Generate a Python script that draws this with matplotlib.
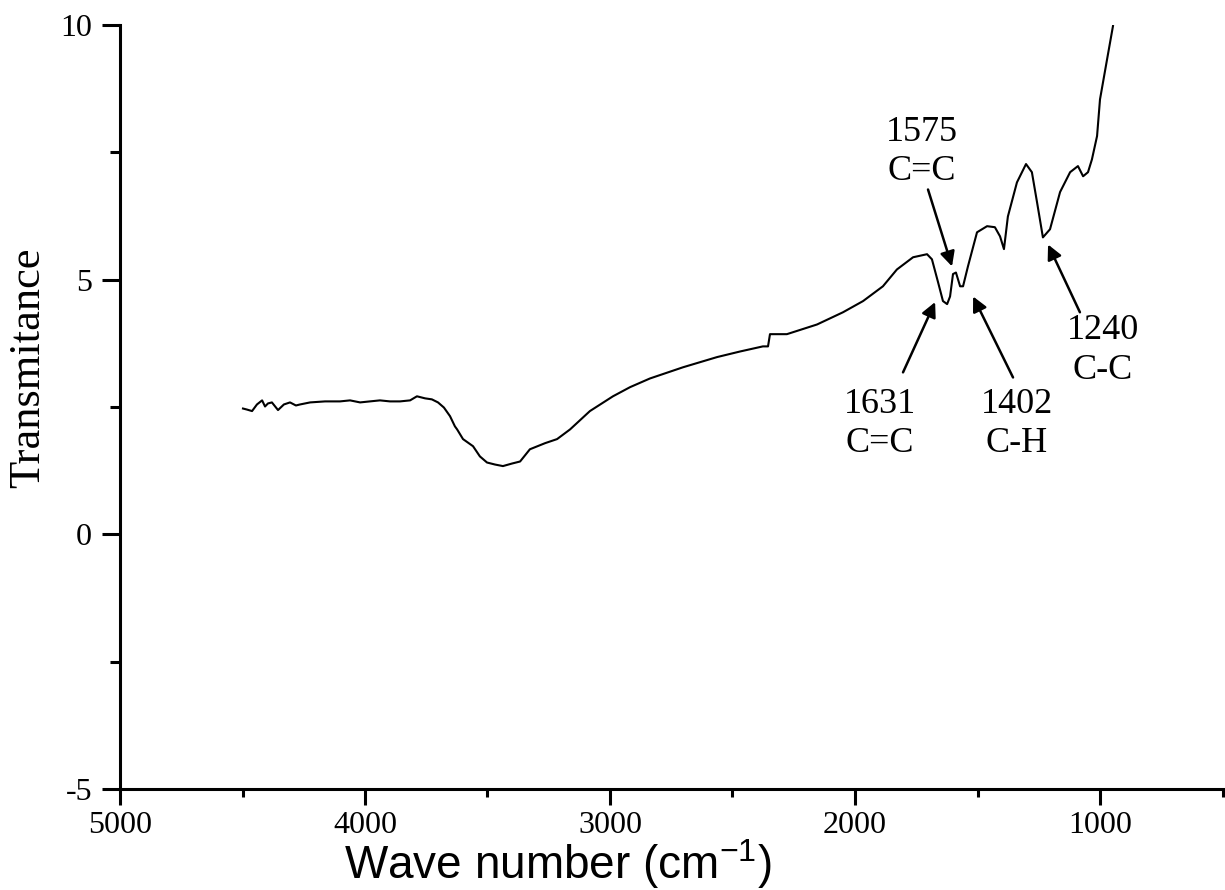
import matplotlib
matplotlib.use("Agg")
import matplotlib.pyplot as plt
from matplotlib.ticker import MultipleLocator

plt.rcParams['axes.unicode_minus'] = False
plt.rcParams['mathtext.default'] = 'regular'

# Spectrum (wave number cm^-1, transmitance)
wavenumber = [4498, 4482, 4461, 4441, 4420, 4408, 4396, 4380, 4355, 4331, 4306, 4282,
              4265, 4224, 4163, 4102, 4061, 4020, 3980, 3939, 3898, 3857, 3816, 3788,
              3755, 3727, 3702, 3678, 3653, 3633, 3624, 3600, 3559, 3531, 3502, 3469,
              3437, 3400, 3367, 3327, 3265, 3216, 3163, 3082, 2988, 2918, 2837, 2702,
              2563, 2469, 2376, 2355, 2347, 2318, 2278, 2155, 2049, 1967, 1886, 1829,
              1763, 1706, 1686, 1661, 1641, 1624, 1612, 1600, 1588, 1571, 1559, 1539,
              1502, 1461, 1429, 1408, 1392, 1376, 1339, 1302, 1278, 1257, 1233, 1204,
              1163, 1122, 1090, 1069, 1049, 1033, 1012, 1000, 971, 947]
transmitance = [2.47, 2.45, 2.42, 2.55, 2.63, 2.51, 2.57, 2.59, 2.44, 2.55, 2.59, 2.53,
                2.55, 2.59, 2.61, 2.61, 2.63, 2.59, 2.61, 2.63, 2.61, 2.61, 2.63, 2.71,
                2.67, 2.65, 2.59, 2.49, 2.32, 2.12, 2.06, 1.87, 1.73, 1.53, 1.41, 1.37,
                1.34, 1.39, 1.43, 1.67, 1.79, 1.87, 2.06, 2.42, 2.71, 2.89, 3.06, 3.28,
                3.48, 3.59, 3.69, 3.69, 3.93, 3.93, 3.93, 4.12, 4.36, 4.58, 4.87, 5.20,
                5.44, 5.50, 5.40, 4.95, 4.58, 4.52, 4.67, 5.11, 5.14, 4.87, 4.87, 5.26,
                5.93, 6.05, 6.03, 5.85, 5.60, 6.24, 6.91, 7.27, 7.11, 6.52, 5.83, 5.99,
                6.72, 7.11, 7.23, 7.03, 7.11, 7.36, 7.82, 8.54, 9.33, 9.98]

# Peak annotations
peak_labels = ["1575\nC=C", "1631\nC=C", "1402\nC-H", "1240\nC-C"]

fig = plt.figure(figsize=(12.25, 8.9), dpi=100)
ax = fig.add_axes([120/1225, 101/890, 1102.5/1225, 764/890])

ax.plot(wavenumber, transmitance, color='black', lw=1.5)

ax.set_xlim(5000, 500)
ax.set_ylim(-5, 10)
ax.xaxis.set_major_locator(MultipleLocator(1000))
ax.xaxis.set_minor_locator(MultipleLocator(500))
ax.yaxis.set_major_locator(MultipleLocator(5))
ax.yaxis.set_minor_locator(MultipleLocator(2.5))

for s in ['top', 'right']:
    ax.spines[s].set_visible(False)
for s in ['left', 'bottom']:
    ax.spines[s].set_linewidth(2.2)

ax.tick_params(axis='x', which='major', direction='out', length=11.5, width=2.2, pad=4)
ax.tick_params(axis='x', which='minor', direction='out', length=6, width=2.2)
ax.tick_params(axis='y', which='major', direction='out', length=13, width=2.2, pad=7)
ax.tick_params(axis='y', which='minor', direction='out', length=7, width=2.2)
for lbl in ax.get_xticklabels() + ax.get_yticklabels():
    lbl.set_fontfamily('Liberation Serif')
    lbl.set_fontsize(23)

fig.text(558/1225, 1 - 864/890, r'Wave number (cm$^{-1}$)', family='Liberation Sans',
         fontsize=33, ha='center', va='center')
fig.text(28/1225, 1 - 368/890, 'Transmitance', family='Liberation Serif',
         fontsize=32, rotation=90, ha='center', va='center')

# text centers (data coords), arrow starts and tips
text_pos = [(1727, 7.51), (1898, 2.16), (1339, 2.16), (988, 3.61)]
arrow_start = [(1702, 6.77), (1804, 3.18), (1355, 3.08), (1082, 4.36)]
arrow_tip = [(1604, 5.26), (1673, 4.56), (1518, 4.67), (1212, 5.69)]

for lab, tp, st, tip in zip(peak_labels, text_pos, arrow_start, arrow_tip):
    ax.text(tp[0], tp[1], lab, family='Liberation Serif', fontsize=26,
            ha='center', va='center', multialignment='center', linespacing=1.25)
    ax.annotate('', xy=tip, xytext=st,
                arrowprops=dict(arrowstyle='-|>', lw=1.8, color='black',
                                mutation_scale=22, shrinkA=0, shrinkB=0))

fig.savefig('out.png', dpi=100)
